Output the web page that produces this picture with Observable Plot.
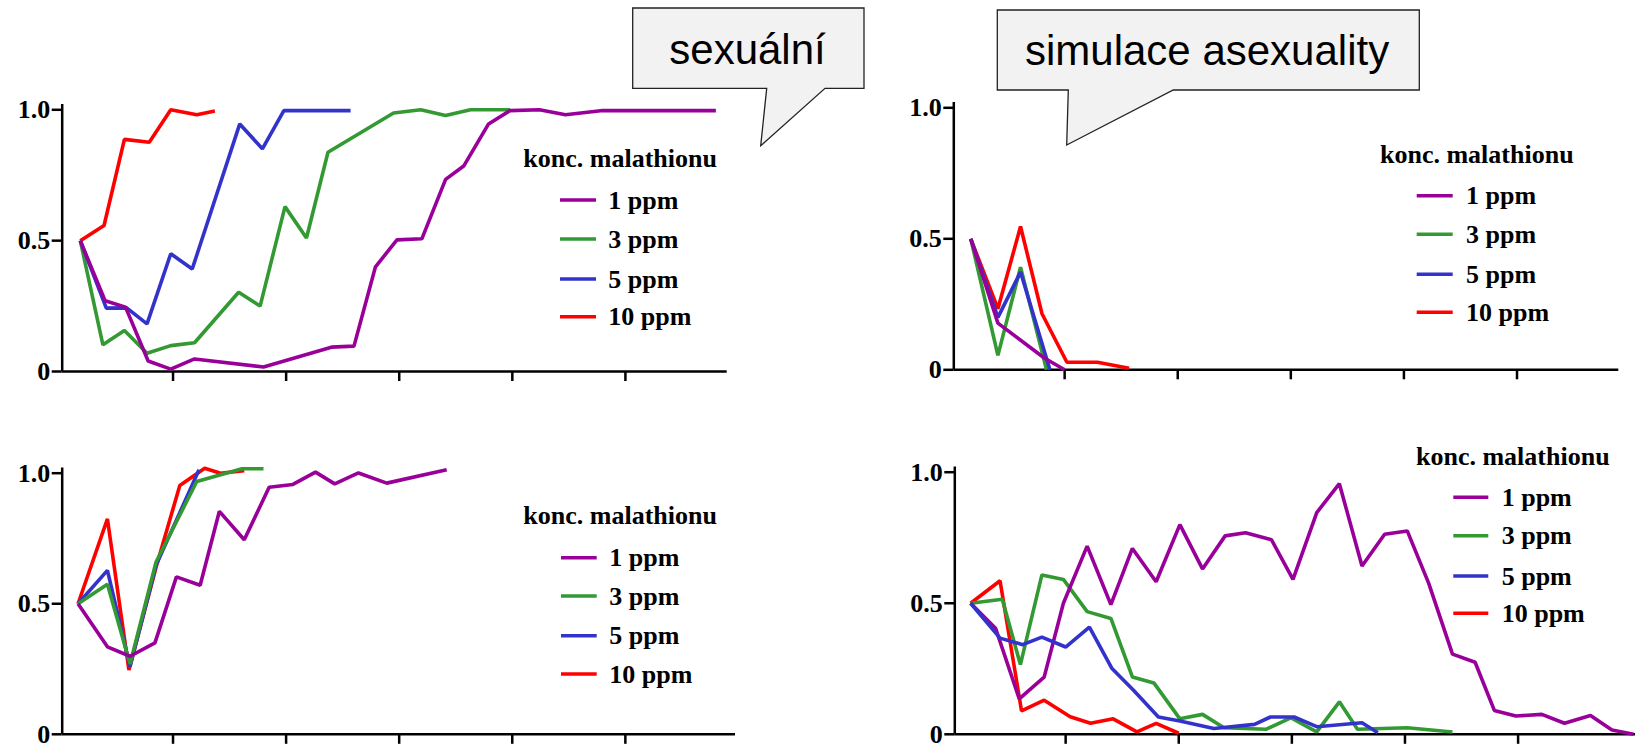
<!DOCTYPE html>
<html><head><meta charset="utf-8">
<script src="https://cdn.jsdelivr.net/npm/d3@7"></script>
<script src="https://cdn.jsdelivr.net/npm/@observablehq/plot@0.6"></script>
<style>
html,body{margin:0;padding:0;background:#fff;}
#root{position:relative;width:1640px;height:748px;overflow:hidden;background:#fff;}
.panel{position:absolute;}
.panel svg{overflow:visible;}
#overlay{position:absolute;left:0;top:0;pointer-events:none;overflow:visible;}
</style></head><body><div id="root"></div>
<script>
// ---------- data ----------
const seriesNames = ["1 ppm", "3 ppm", "5 ppm", "10 ppm"];
const seriesColors = ["#990099", "#339933", "#3333cc", "#ff0000"];
const yTicks = [0, 0.5, 1];
const yTickLabels = ["0", "0.5", "1.0"];
const xTicks = [5, 10, 15, 20, 25];
const legendTitle = "konc. malathionu";
const bubbleTexts = ["sexuální", "simulace asexuality"];

// top-left panel (sexuální)  [generation, proportion]
const tl1 = [[0.9,0.5],[2,0.27],[2.9,0.246],[3.9,0.04],[4.9,0.009],[5.95,0.048],[9,0.017],[12,0.093],[13,0.097],[13.95,0.40],[14.9,0.503],[16,0.507],[17.05,0.734],[17.85,0.785],[18.95,0.946],[19.9,0.997],[21.2,1.0],[22.35,0.981],[24,0.997],[29,0.997]];
const tl3 = [[0.9,0.5],[1.9,0.102],[2.85,0.157],[3.85,0.07],[4.9,0.099],[5.95,0.11],[7.9,0.303],[8.85,0.25],[9.95,0.63],[10.9,0.51],[11.85,0.838],[14.75,0.988],[15.95,1.0],[17.05,0.978],[18.15,1.0],[19.9,1.0]];
const tl5 = [[0.9,0.5],[2.05,0.242],[2.95,0.243],[3.85,0.182],[4.9,0.45],[5.85,0.392],[7.95,0.946],[8.95,0.851],[9.9,0.997],[12.85,0.997]];
const tl10 = [[0.9,0.5],[1.95,0.558],[2.85,0.887],[3.95,0.876],[4.9,1.0],[6.05,0.981],[6.85,0.995]];

// top-right panel (simulace asexuality)
const tr1 = [[0.85,0.5],[2.05,0.178],[4.1,0.045],[5,0]];
const tr3 = [[0.85,0.5],[2.05,0.055],[3.05,0.392],[4.2,0]];
const tr5 = [[0.85,0.5],[2.05,0.2],[3.05,0.373],[4.35,0]];
const tr10 = [[0.85,0.5],[2.05,0.233],[3.05,0.547],[4,0.214],[5.1,0.029],[6.45,0.029],[7.85,0.006]];

// bottom-left panel
const bl1 = [[0.8,0.5],[2.1,0.335],[3.1,0.299],[4.2,0.35],[5.15,0.603],[6.2,0.571],[7.05,0.854],[8.15,0.745],[9.25,0.946],[10.3,0.957],[11.3,1.004],[12.15,0.959],[13.2,1.001],[14.45,0.962],[17.1,1.013]];
const bl3 = [[0.8,0.5],[2.1,0.575],[3.1,0.269],[4.25,0.66],[6.05,0.968],[8.05,1.017],[9,1.017]];
const bl5 = [[0.8,0.5],[2.1,0.628],[3.1,0.259],[4.25,0.647],[6.15,1.013]];
const bl10 = [[0.8,0.5],[2.1,0.825],[3.05,0.246],[4.25,0.64],[5.3,0.953],[6.4,1.019],[7.1,1.0],[8.15,1.01]];

// bottom-right panel
const br1 = [[0.8,0.5],[1.9,0.405],[2.95,0.135],[4.05,0.218],[4.9,0.5],[5.95,0.718],[7,0.495],[7.95,0.709],[9,0.582],[10.05,0.8],[11.05,0.631],[12.05,0.757],[12.95,0.769],[14.1,0.742],[15.05,0.591],[16.1,0.846],[17.1,0.956],[18.1,0.642],[19.1,0.763],[20.1,0.776],[21.05,0.576],[22.1,0.306],[23.1,0.275],[23.95,0.091],[24.9,0.07],[26.05,0.076],[27.05,0.042],[28.2,0.072],[29.15,0.016],[30.1,0.0]];
const br3 = [[0.8,0.5],[2.2,0.515],[3,0.266],[3.95,0.608],[4.9,0.591],[5.95,0.468],[7,0.442],[7.95,0.219],[8.9,0.196],[10.05,0.059],[11.05,0.076],[12,0.025],[13.85,0.019],[14.95,0.063],[16.1,0.009],[17.1,0.124],[17.9,0.019],[20.1,0.025],[22.1,0.009]];
const br5 = [[0.8,0.5],[2.1,0.367],[3.1,0.342],[3.95,0.371],[5,0.333],[6.05,0.409],[7.05,0.251],[8,0.168],[9.1,0.066],[10.05,0.051],[11.55,0.022],[13.35,0.038],[14.05,0.066],[15.1,0.066],[16.1,0.029],[18.1,0.044],[18.8,0.006]];
const br10 = [[0.8,0.5],[2.1,0.586],[3.05,0.089],[4.05,0.13],[5.2,0.067],[6.1,0.042],[7.1,0.059],[8.15,0.009],[9,0.042],[10,0.004]];

// ---------- layout ----------
const panels = [
  {left: 0, top: 0, width: 820, height: 390, mL: 61.7, mR: 93.3, mT: 109.3, mB: 19, xDomain: [0.1, 29.5], series: [tl1, tl3, tl5, tl10], order: [3, 1, 2, 0]},
  {left: 820, top: 0, width: 820, height: 390, mL: 133.3, mR: 21.7, mT: 107.3, mB: 20.7, xDomain: [0.1, 29.5], series: [tr1, tr3, tr5, tr10], order: [3, 1, 2, 0]},
  {left: 0, top: 390, width: 820, height: 358, mL: 61.7, mR: 85, mT: 82.7, mB: 14.2, xDomain: [0.1, 29.87], series: [bl1, bl3, bl5, bl10], order: [3, 2, 1, 0]},
  {left: 820, top: 390, width: 820, height: 358, mL: 134.3, mR: 5, mT: 81.7, mB: 14.2, xDomain: [0.1, 30.19], series: [br1, br3, br5, br10], order: [3, 1, 0, 2]}
];
const legendPos = [
  {x: 523.3, titleY: 167, sw: [560, 596], ys: [200, 239, 279, 316.7], tx: 608.3},
  {x: 1380, titleY: 162.7, sw: [1416.7, 1452.7], ys: [195.7, 234.3, 274.3, 312.3], tx: 1466},
  {x: 523.3, titleY: 524.3, sw: [561, 596.7], ys: [557.7, 596, 635.7, 674], tx: 609.3},
  {x: 1416, titleY: 465, sw: [1453.3, 1488.3], ys: [497.3, 535.7, 576, 613.3], tx: 1501.7}
];
const bubbles = [
  {x0: 632.7, y0: 8, x1: 864, y1: 88.3, tl: 766.7, tr: 825, tipX: 760.7, tipY: 145.7, tx: 669.3, ty: 64},
  {x0: 997.3, y0: 10, x1: 1419.3, y1: 90, tl: 1068.3, tr: 1173.3, tipX: 1066.7, tipY: 145, tx: 1025, ty: 65}
];

const serif = "'Liberation Serif', 'Times New Roman', serif";
const sans = "'Liberation Sans', Arial, sans-serif";
const root = document.getElementById("root");

panels.forEach(p => {
  const marks = [
    Plot.ruleY([0], {x1: p.xDomain[0], x2: p.xDomain[1], stroke: "#000", strokeWidth: 2.5}),
    Plot.ruleX([p.xDomain[0]], {y1: 0, y2: 1.02, stroke: "#000", strokeWidth: 2.5}),
    Plot.axisY({ticks: yTicks, tickFormat: d => yTickLabels[yTicks.indexOf(d)], tickSize: 10, tickPadding: 2,
      label: null, fontSize: 26, fontWeight: "bold", fontFamily: serif, strokeWidth: 2.5}),
    Plot.axisX({ticks: xTicks, tickSize: 10, tickFormat: () => "", label: null, strokeWidth: 2.5})
  ];
  p.order.forEach(i => {
    marks.push(Plot.line(p.series[i], {x: d => d[0], y: d => d[1], stroke: seriesColors[i],
      strokeWidth: 3.6, strokeLinejoin: "miter", strokeLinecap: "butt"}));
  });
  const chart = Plot.plot({
    width: p.width, height: p.height,
    marginLeft: p.mL, marginRight: p.mR, marginTop: p.mT, marginBottom: p.mB,
    x: {domain: p.xDomain},
    y: {domain: [0, 1]},
    style: {background: "transparent", overflow: "visible", color: "#000"},
    marks
  });
  const div = document.createElement("div");
  div.className = "panel";
  div.style.left = p.left + "px";
  div.style.top = p.top + "px";
  div.appendChild(chart);
  root.appendChild(div);
});

const svg = d3.select(root).append("svg").attr("id", "overlay").attr("width", 1640).attr("height", 748);

legendPos.forEach(L => {
  svg.append("text").attr("x", L.x).attr("y", L.titleY).text(legendTitle)
    .attr("font-family", serif).attr("font-weight", "bold").attr("font-size", 26).attr("fill", "#000");
  seriesNames.forEach((name, i) => {
    svg.append("line").attr("x1", L.sw[0]).attr("x2", L.sw[1]).attr("y1", L.ys[i]).attr("y2", L.ys[i])
      .attr("stroke", seriesColors[i]).attr("stroke-width", 3.6);
    svg.append("text").attr("x", L.tx).attr("y", L.ys[i] + 8.5).text(name)
      .attr("font-family", serif).attr("font-weight", "bold").attr("font-size", 26).attr("fill", "#000");
  });
});

bubbles.forEach((b, i) => {
  const d = `M${b.x0},${b.y0}H${b.x1}V${b.y1}H${b.tr}L${b.tipX},${b.tipY}L${b.tl},${b.y1}H${b.x0}Z`;
  svg.append("path").attr("d", d).attr("fill", "#f2f2f2").attr("stroke", "#222").attr("stroke-width", 1.3);
  svg.append("text").attr("x", b.tx).attr("y", b.ty).text(bubbleTexts[i])
    .attr("font-family", sans).attr("font-size", 42).attr("fill", "#000");
});
</script></body></html>
